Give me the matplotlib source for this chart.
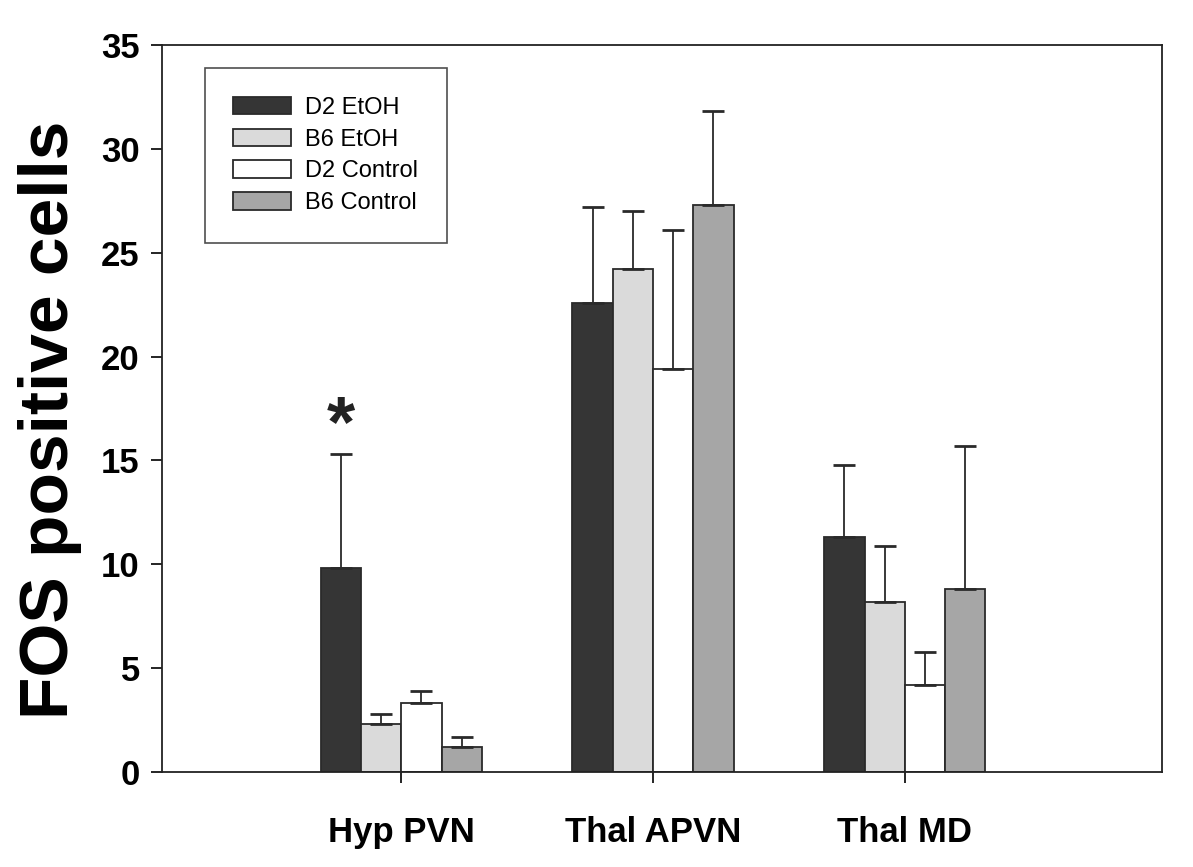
import numpy as np
import matplotlib
matplotlib.use("Agg")
from matplotlib import pyplot as plt

plt.rcParams["font.family"] = ["Liberation Sans", "DejaVu Sans"]

regions = ["Hyp PVN", "Thal APVN", "Thal MD"]
groups = ["D2 EtOH", "B6 EtOH", "D2 Control", "B6 Control"]

# mean FOS positive cells and upper SEM per region
d2_etoh = [9.8, 22.6, 11.3]
d2_etoh_err = [5.5, 4.6, 3.5]
b6_etoh = [2.3, 24.2, 8.2]
b6_etoh_err = [0.5, 2.8, 2.7]
d2_ctrl = [3.3, 19.4, 4.2]
d2_ctrl_err = [0.6, 6.7, 1.6]
b6_ctrl = [1.2, 27.3, 8.8]
b6_ctrl_err = [0.5, 4.5, 6.9]

# significance marker: (region index, group index, height)
star = (0, 0, 16.6)

means = [d2_etoh, b6_etoh, d2_ctrl, b6_ctrl]
errs = [d2_etoh_err, b6_etoh_err, d2_ctrl_err, b6_ctrl_err]
colors = ["#353535", "#dadada", "#ffffff", "#a6a6a6"]
edge = "#2a2a2a"

fig = plt.figure(figsize=(11.93, 8.67), dpi=100)
ax = fig.add_axes([0.1358, 0.1096, 0.838, 0.8385])

x = np.arange(1, len(regions) + 1)
width = 0.16
offsets = (np.arange(len(groups)) - 1.5) * width

for i, g in enumerate(groups):
    xs = x + offsets[i]
    ax.bar(xs, means[i], width, color=colors[i], edgecolor=edge,
           linewidth=1.3, label=g, zorder=2)
    ax.errorbar(xs, means[i], yerr=[np.zeros(len(xs)), errs[i]], fmt="none",
                ecolor=edge, elinewidth=1.3, capsize=8, capthick=2.0,
                zorder=3)

ri, gi, h = star
ax.text(x[ri] + offsets[gi], h, "*", ha="center", va="center",
        fontsize=52, fontweight="bold", color="#222222")

ax.set_xlim(0.05, 4.02)
ax.set_ylim(0, 35)
ax.set_yticks(range(0, 36, 5))
ax.set_xticks(x)
ax.set_xticklabels(regions, fontsize=25, fontweight="bold")
ax.tick_params(axis="y", labelsize=25, direction="out", length=8,
               width=1.2, pad=8)
for lbl in ax.get_yticklabels():
    lbl.set_fontweight("bold")
ax.tick_params(axis="x", direction="out", length=8, width=1.2, pad=24)

for s in ax.spines.values():
    s.set_linewidth(1.3)
    s.set_color("#222222")

ax.set_ylabel("FOS positive cells", fontsize=50, fontweight="bold")
ax.yaxis.set_label_coords(-0.08, 0.484)

leg = ax.legend(loc="upper left", bbox_to_anchor=(0.043, 0.968),
                fontsize=17, frameon=True, fancybox=False, borderpad=1.2,
                handlelength=2.45, handleheight=0.76, handletextpad=0.6,
                labelspacing=0.42, borderaxespad=0)
leg.get_frame().set_edgecolor("#222222")
leg.get_frame().set_linewidth(1.2)

fig.savefig("out.png", dpi=100)
